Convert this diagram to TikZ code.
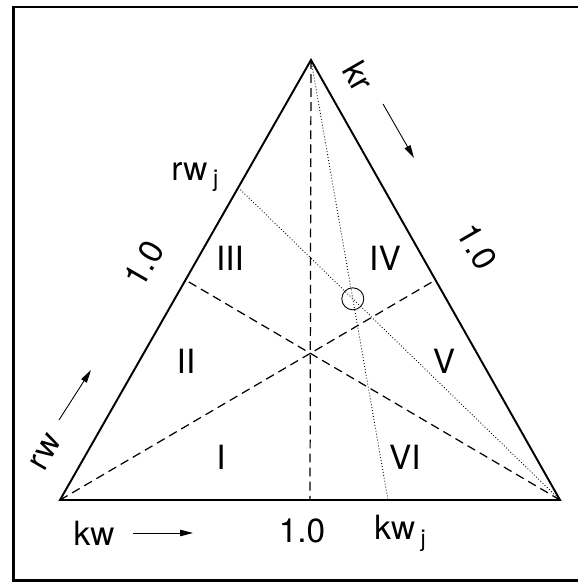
\documentclass[tikz,border=0pt]{standalone}
\usepackage{fontspec}
\setmainfont{TeX Gyre Heros}
\usetikzlibrary{arrows.meta,calc}

\begin{document}
\begin{tikzpicture}[font=\fontsize{19}{21}\selectfont,>={Triangle[length=2.6mm,width=1.3mm]},
  side/.style={line width=1.1pt,line join=miter},
  median/.style={line width=0.7pt,dash pattern=on 5pt off 3pt},
  trace/.style={line width=0.5pt,dash pattern=on 0.5pt off 1.2pt},
  sublbl/.style={inner sep=0pt,anchor=base west}]
\useasboundingbox (-1.2,-1.66) rectangle (10.36,10);
\clip (-1.2,-1.66) rectangle (10.36,10);
\draw[line width=1.4pt] (10.6,9.86) -- (-0.93,9.86) -- (-0.93,-1.61) -- (10.6,-1.61);
% triangle corners and side midpoints
\coordinate (A) at (0,0);
\coordinate (B) at (10,0);
\coordinate (C) at (5.02,8.8);
\coordinate (mAB) at ($(A)!0.5!(B)$);
\coordinate (mBC) at ($(B)!0.5!(C)$);
\coordinate (mAC) at ($(A)!0.5!(C)$);
\draw[side] (A) -- (B) -- (C) -- cycle;
\draw[median] (C) -- (mAB);
\draw[median] (A) -- (mBC);
\draw[median] (B) -- (mAC);
% the point j
\coordinate (rwj) at ($(A)!0.71!(C)$);
\coordinate (kwj) at ($(A)!0.656!(B)$);
\draw[trace] (rwj) -- (B);
\draw[trace] (C) -- (kwj);
\coordinate (ptj) at (intersection of rwj--B and C--kwj);
\draw[line width=0.5pt] (ptj) circle (0.22);
% regions
\foreach \n/\x/\y in {I/3.22/0.86, II/2.52/2.78, III/3.4/4.84, IV/6.5/4.84, V/7.68/2.78, VI/6.9/0.86}
  \node (reg\n) at (\x,\y) {\n};
% axis labels
\node[rotate=-60] (lblkr) at (5.98,8.48) {kr};
\node[rotate=-60] (onekr) at (8.34,5.06) {1.0};
\node[rotate=60] (onerw) at (1.68,4.72) {1.0};
\node[rotate=60] (lblrw) at (-0.28,0.96) {rw};
\node (lblkw) at (0.68,-0.66) {kw};
\node (onekw) at (4.84,-0.62) {1.0};
\node[sublbl] (lblrwj) at (2.22,6.39) {rw\,\textsubscript{j}};
\node[sublbl] (lblkwj) at (6.28,-0.8) {kw\,\textsubscript{j}};
% direction arrows
\coordinate (kr0) at (6.46,7.92);
\coordinate (kr1) at (7.08,6.84);
\coordinate (rw0) at (-0.02,1.6);
\coordinate (rw1) at (0.62,2.6);
\coordinate (kw0) at (1.46,-0.66);
\coordinate (kw1) at (2.66,-0.66);
\draw[->,line width=0.5pt] (kr0) -- (kr1);
\draw[->,line width=0.5pt] (rw0) -- (rw1);
\draw[->,line width=0.5pt] (kw0) -- (kw1);
\end{tikzpicture}
\end{document}
